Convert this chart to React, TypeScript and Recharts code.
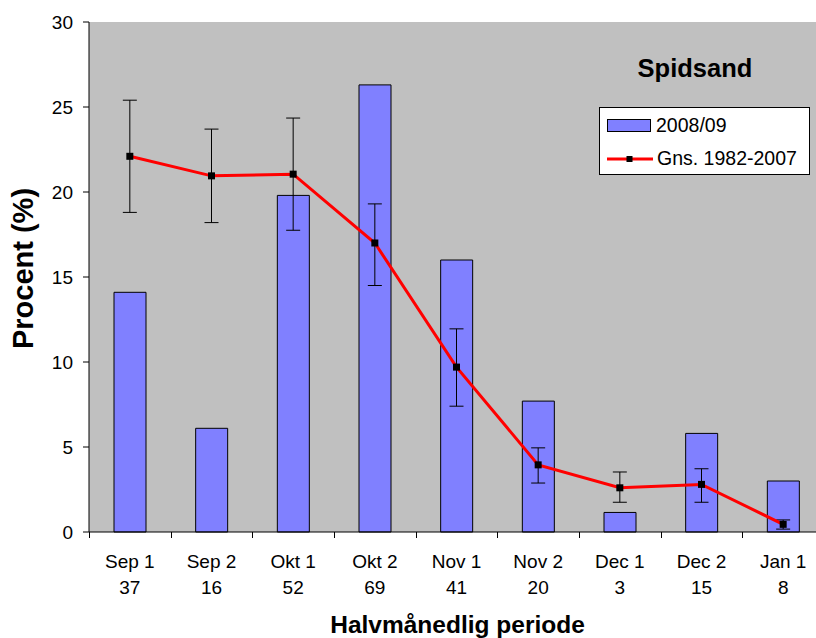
import React from "react";
import { ComposedChart, Bar, Line, ErrorBar, XAxis, YAxis, CartesianGrid, Legend } from "recharts";

const periods = ["Sep 1", "Sep 2", "Okt 1", "Okt 2", "Nov 1", "Nov 2", "Dec 1", "Dec 2", "Jan 1"];
const counts = [37, 16, 52, 69, 41, 20, 3, 15, 8];
const season2008 = [14.1, 6.1, 19.8, 26.3, 16.0, 7.7, 1.15, 5.8, 3.0];
const mean19822007 = [22.1, 20.95, 21.05, 17.0, 9.7, 3.95, 2.6, 2.8, 0.45];
const meanUpper = [25.4, 23.7, 24.35, 19.3, 11.95, 4.95, 3.53, 3.72, 0.71];
const meanLower = [18.8, 18.2, 17.75, 14.5, 7.4, 2.88, 1.75, 1.75, 0.17];
const yTicks = [0, 5, 10, 15, 20, 25, 30];

const data = periods.map((p, i) => ({
  cat: p,
  count: counts[i],
  bar: season2008[i],
  mean: mean19822007[i],
  err: [mean19822007[i] - meanLower[i], meanUpper[i] - mean19822007[i]],
}));

const FONT = '"Liberation Sans", Arial, sans-serif';
const TICK_FS = 19;
const CHART_W = 830;
const CHART_H = 638;
const MARGIN = { top: 22, right: 6, bottom: 0, left: 0 };
const Y_W = 89;
const BAND = (CHART_W - MARGIN.left - MARGIN.right - Y_W) / periods.length;

const XTick = (props: any) => {
  const { x, y, payload, index } = props;
  const off = payload && typeof payload.offset === "number" && payload.offset > 0 ? payload.offset : BAND / 2;
  const lx = Math.round(x - off) + 0.5;
  return (
    <g>
      <line x1={lx} x2={lx} y1={y - 6} y2={y} stroke="#000" strokeWidth={1} />
      <text x={x} y={y + 30} textAnchor="middle" fontSize={TICK_FS} fontFamily={FONT} fill="#000">
        {payload.value}
      </text>
      <text x={x} y={y + 56} textAnchor="middle" fontSize={TICK_FS} fontFamily={FONT} fill="#000">
        {data[index] ? data[index].count : ""}
      </text>
    </g>
  );
};

const SquareDot = (props: any) => {
  const { cx, cy } = props;
  if (cx == null || cy == null) return null;
  return <rect x={cx - 3.5} y={cy - 3.5} width={7} height={7} fill="#000" />;
};

const XTitle = (props: any) => {
  const vb = props.viewBox || { x: 89, y: 532, width: 735, height: 106 };
  return (
    <text x={vb.x + vb.width / 2 + 1} y={vb.y + 101} textAnchor="middle" fontSize={24.5} fontWeight="bold" fontFamily={FONT} fill="#000">
      Halvmånedlig periode
    </text>
  );
};

const YTitle = (props: any) => {
  const vb = props.viewBox || { x: 0, y: 22, width: 89, height: 510 };
  const cx = vb.x + 23;
  const cy = vb.y + vb.height / 2 - 8.5;
  return (
    <text
      x={cx}
      y={cy}
      transform={`rotate(-90, ${cx}, ${cy})`}
      textAnchor="middle"
      dominantBaseline="central"
      fontSize={29}
      fontWeight="bold"
      fontFamily={FONT}
      fill="#000"
    >
      Procent (%)
    </text>
  );
};

const LegendBox = () => (
  <svg width={230} height={130} style={{ display: "block", overflow: "visible" }}>
    <text x={105} y={27} textAnchor="middle" fontSize={25.5} fontWeight="bold" fontFamily={FONT} fill="#000">
      Spidsand
    </text>
    <rect x={9.5} y={57.5} width={210} height={67} fill="#fff" stroke="#000" strokeWidth={1} />
    <rect x={17.5} y={69.5} width={43} height={12} fill="#8080FF" stroke="#000" strokeWidth={1} />
    <text x={66} y={82} fontSize={19.5} fontFamily={FONT} fill="#000">
      2008/09
    </text>
    <line x1={17} x2={63} y1={109} y2={109} stroke="#FF0000" strokeWidth={3} />
    <rect x={36.5} y={106} width={6} height={6} fill="#000" />
    <text x={67} y={115} fontSize={19.5} fontFamily={FONT} fill="#000">
      Gns. 1982-2007
    </text>
  </svg>
);

export default function App() {
  return (
    <div style={{ position: "fixed", left: 0, top: 0, width: 816, height: 638, overflow: "hidden", background: "#fff" }}>
      <ComposedChart width={CHART_W} height={CHART_H} data={data} margin={MARGIN}>
        <CartesianGrid fill="#C0C0C0" horizontal={false} vertical={false} stroke="none" />
        <XAxis
          dataKey="cat"
          height={106}
          interval={0}
          axisLine={{ stroke: "#000", strokeWidth: 1 }}
          tickLine={false}
          tickSize={6}
          tickMargin={0}
          tick={<XTick />}
          label={{ content: XTitle }}
        />
        <YAxis
          width={Y_W}
          domain={[0, 30]}
          ticks={yTicks}
          interval={0}
          axisLine={{ stroke: "#000", strokeWidth: 1 }}
          tickLine={{ stroke: "#000", strokeWidth: 1 }}
          tickSize={6}
          tickMargin={10}
          tick={{ fontSize: TICK_FS, fontFamily: FONT, fill: "#000" }}
          label={{ content: YTitle }}
        />
        <Legend
          layout="vertical"
          align="center"
          verticalAlign="middle"
          wrapperStyle={{ left: 590, top: 50, width: 230, height: 130 }}
          content={() => <LegendBox />}
        />
        <Bar dataKey="bar" name="2008/09" fill="#8080FF" stroke="#000" strokeWidth={1} barSize={32} isAnimationActive={false} />
        <Line
          dataKey="mean"
          name="Gns. 1982-2007"
          type="linear"
          stroke="#FF0000"
          strokeWidth={3}
          dot={<SquareDot />}
          activeDot={false}
          isAnimationActive={false}
        >
          <ErrorBar dataKey="err" width={7} stroke="#000" strokeWidth={1} direction="y" isAnimationActive={false} />
        </Line>
      </ComposedChart>
    </div>
  );
}
